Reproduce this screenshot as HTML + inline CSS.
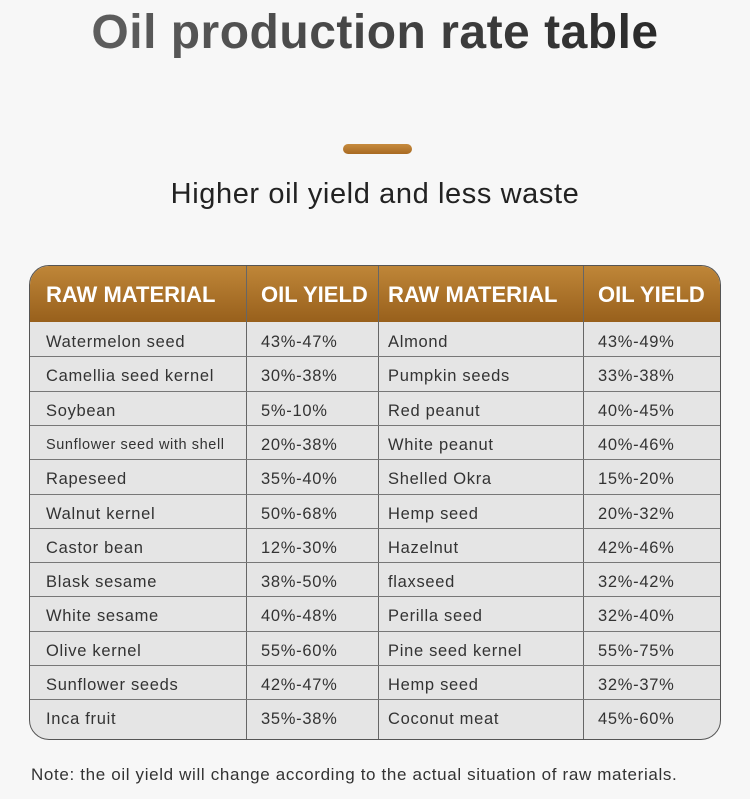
<!DOCTYPE html>
<html><head><meta charset="utf-8"><style>
html,body{margin:0;padding:0;background:#f7f7f7;width:750px;height:799px;overflow:hidden;font-family:"Liberation Sans",sans-serif;}
.abs{position:absolute;}
h1{position:absolute;left:0;width:750px;top:3px;margin:0;text-align:center;font-size:48px;font-weight:bold;line-height:60px;color:#333;background:linear-gradient(90deg,#666,#222);-webkit-background-clip:text;background-clip:text;-webkit-text-fill-color:transparent;letter-spacing:0.5px}
.bar{left:343px;top:144px;width:69px;height:10px;border-radius:5px;background:linear-gradient(#c68b3e,#a86a22);}
.sub{left:0;width:750px;top:176px;text-align:center;font-size:29px;color:#222;line-height:36px;letter-spacing:0.6px}
.tbl{left:29px;top:265px;width:690px;height:473px;border:1px solid #555;border-radius:20px;overflow:hidden;background:#e5e5e5;}
.hd{left:0;top:0;width:690px;height:56px;background:linear-gradient(#bf8638,#98601c);}
.row{left:0;width:690px;border-top:1px solid #777;}
.vl{top:0;width:1px;height:473px;background:#666;}
.c{font-size:16.5px;color:#333;line-height:34px;white-space:nowrap;letter-spacing:0.7px}
.h{font-size:22px;font-weight:bold;color:#fff;line-height:56px;top:1px;white-space:nowrap;}
.note{left:31px;top:765px;font-size:17px;color:#333;letter-spacing:0.65px;white-space:nowrap}
</style></head><body>
<h1>Oil production rate table</h1>
<div class="abs bar"></div>
<div class="abs sub">Higher oil yield and less waste</div>
<div class="abs tbl">
<div class="abs hd"></div>
<div class="abs h" style="left:16px">RAW MATERIAL</div>
<div class="abs h" style="left:231px">OIL YIELD</div>
<div class="abs h" style="left:358px">RAW MATERIAL</div>
<div class="abs h" style="left:568px">OIL YIELD</div>
<div class="abs vl" style="left:216px"></div>
<div class="abs vl" style="left:348px"></div>
<div class="abs vl" style="left:553px"></div>
<div id="rows"></div>
</div>
<div class="abs note">Note: the oil yield will change according to the actual situation of raw materials.</div>
<script>
var d=[["Watermelon seed","43%-47%","Almond","43%-49%"],["Camellia seed kernel","30%-38%","Pumpkin seeds","33%-38%"],["Soybean","5%-10%","Red peanut","40%-45%"],["Sunflower seed with shell","20%-38%","White peanut","40%-46%"],["Rapeseed","35%-40%","Shelled Okra","15%-20%"],["Walnut kernel","50%-68%","Hemp seed","20%-32%"],["Castor bean","12%-30%","Hazelnut","42%-46%"],["Blask sesame","38%-50%","flaxseed","32%-42%"],["White sesame","40%-48%","Perilla seed","32%-40%"],["Olive kernel","55%-60%","Pine seed kernel","55%-75%"],["Sunflower seeds","42%-47%","Hemp seed","32%-37%"],["Inca fruit","35%-38%","Coconut meat","45%-60%"]];
var h="",xs=[16,231,358,568];
for(var i=0;i<12;i++){var t=56+i*34.3;
if(i>0)h+='<div class="abs row" style="top:'+t+'px"></div>';
for(var j=0;j<4;j++){var fs=(i==3&&j==0)?'font-size:14.5px;letter-spacing:0.6px;':'';h+='<div class="abs c" style="'+fs+'left:'+xs[j]+'px;top:'+(t+3)+'px">'+d[i][j]+'</div>';}}
document.getElementById('rows').innerHTML=h;
</script>
</body></html>
